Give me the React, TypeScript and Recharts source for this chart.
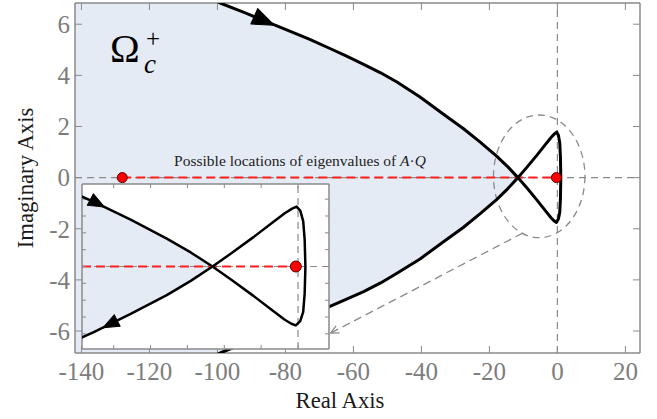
import React from 'react';
import {
  ComposedChart,
  Area,
  Scatter,
  XAxis,
  YAxis,
  ReferenceLine,
  ReferenceDot,
  ReferenceArea,
} from 'recharts';

// ---------- data ----------
// shared real-axis samples for the two big branches (left of the crossing)
const branchX = [-103, -99.2, -92, -86.5, -80, -73, -66.9, -62, -57, -52, -47.2, -40.4, -33.6, -27.7, -22.7, -17.8, -14.5, -11.6];
const upperY = [7.1, 6.83, 6.45, 6.15, 5.8, 5.42, 5.05, 4.75, 4.43, 4.1, 3.74, 3.15, 2.49, 1.92, 1.39, 0.83, 0.41, 0];
const lowerY = [-7.1, -6.86, -6.47, -6.16, -5.8, -5.42, -5.04, -4.75, -4.46, -4.12, -3.74, -3.18, -2.52, -1.95, -1.41, -0.85, -0.42, 0];
// small loop right of the crossing (drawn in contour order)
const loopX = [-9, -6, -3.5, -1.8, -0.9, -0.3, 0.3, 0.7, 0.9, 1.0, 0.9, 0.7, 0.3, -0.2, -0.8, -1.8, -3.5, -6, -9];
const loopY = [-0.4, -0.88, -1.3, -1.58, -1.7, -1.75, -1.62, -1.35, -0.8, 0, 0.8, 1.35, 1.66, 1.78, 1.72, 1.58, 1.3, 0.88, 0.4];

const eigenStart = -128;
const eigenEnd = -0.3;

const mainXTicks = [-140, -120, -100, -80, -60, -40, -20, 0, 20];
const mainYTicks = [-6, -4, -2, 0, 2, 4, 6];
const insetXTicks = [-25, -20, -15, -10, -5, 0];
const insetYTicks = [-2, -1.5, -1, -0.5, 0, 0.5, 1, 1.5, 2];

const MAIN_X_DOMAIN: [number, number] = [-141.9, 24.3];
const MAIN_Y_DOMAIN: [number, number] = [-6.86, 6.83];
const INSET_X_DOMAIN: [number, number] = [-29.3, 4.2];
const INSET_Y_DOMAIN: [number, number] = [-2.45, 2.45];

// ---------- derived tables ----------
const upperBranch = branchX.map((x, i) => ({ x, y: upperY[i] }));
const lowerBranch = branchX.map((x, i) => ({ x, y: lowerY[i] })).reverse();
const loop = loopX.map((x, i) => ({ x, y: loopY[i] }));
const contour = [...upperBranch, ...loop, ...lowerBranch];
const fillData = [
  { x: -170, range: [-9, 9] },
  ...branchX.map((x, i) => ({ x, range: [lowerY[i], upperY[i]] })),
];

const SERIF = "'Liberation Serif', 'Times New Roman', serif";
const FRAME = '#8a8a8a';
const FILL = '#e5ebf5';
const TICK_COLOR = '#7d7d7d';

const EmptyShape = () => <g />;

const makeArrow = (angle: number, len: number, wid: number) => (props: any) => {
  const { cx, cy } = props;
  if (cx == null || cy == null) return <g />;
  const pts = `${len * 0.6},0 ${-len * 0.4},${wid / 2} ${-len * 0.4},${-wid / 2}`;
  return (
    <polygon
      points={pts}
      transform={`translate(${cx},${cy}) rotate(${angle})`}
      fill="#000"
      stroke="#000"
      strokeWidth={1}
      strokeLinejoin="round"
    />
  );
};

const EllipseShape = (props: any) => {
  const { x, y, width, height } = props;
  if (x == null) return <g />;
  return (
    <ellipse
      cx={x + width / 2}
      cy={y + height / 2}
      rx={Math.abs(width) / 2}
      ry={Math.abs(height) / 2}
      fill="none"
      stroke="#8a8a8a"
      strokeWidth={1.3}
      strokeDasharray="7 5"
    />
  );
};

const PointerShape = (props: any) => {
  const { x1, y1, x2, y2 } = props;
  if (x1 == null) return <g />;
  const a = Math.atan2(y2 - y1, x2 - x1);
  const h = 9;
  const s = 0.45;
  const p1x = x2 - h * Math.cos(a - s);
  const p1y = y2 - h * Math.sin(a - s);
  const p2x = x2 - h * Math.cos(a + s);
  const p2y = y2 - h * Math.sin(a + s);
  return (
    <g>
      <line x1={x1} y1={y1} x2={x2} y2={y2} stroke="#8a8a8a" strokeWidth={1.3} strokeDasharray="8 5" />
      <polyline points={`${p1x},${p1y} ${x2},${y2} ${p2x},${p2y}`} fill="none" stroke="#8a8a8a" strokeWidth={1.3} />
    </g>
  );
};

const XTick = (props: any) => {
  const { x, y, payload } = props;
  return (
    <text x={x} y={y} dy="0.71em" textAnchor="middle" fontFamily={SERIF} fontSize={25} fill={TICK_COLOR}>
      {payload.value}
    </text>
  );
};

const YTick = (props: any) => {
  const { x, y, payload } = props;
  return (
    <text x={x} y={y} dy="0.355em" textAnchor="end" fontFamily={SERIF} fontSize={25} fill={TICK_COLOR}>
      {payload.value}
    </text>
  );
};

const NoTick = () => <g />;

function MainChart() {
  return (
    <ComposedChart width={657} height={419} data={fillData} margin={{ top: 2, right: 16, bottom: 0, left: 0 }}>
      <Area
        dataKey="range"
        type="linear"
        fill={FILL}
        fillOpacity={1}
        stroke="none"
        isAnimationActive={false}
      />
      <ReferenceLine x={0} stroke="#8a8a8a" strokeWidth={1.2} strokeDasharray="7 5" />
      <ReferenceLine y={0} stroke="#8a8a8a" strokeWidth={1.2} strokeDasharray="7 5" />
      <ReferenceArea x1={-18.8} x2={8.1} y1={-2.35} y2={2.45} shape={EllipseShape} ifOverflow="visible" />
      <ReferenceLine
        segment={[{ x: eigenStart, y: 0 }, { x: eigenEnd, y: 0 }]}
        stroke="#ff1f1f"
        strokeWidth={2}
        strokeDasharray="9 5"
      />
      <Scatter
        data={contour}
        dataKey="y"
        line={{ stroke: '#000', strokeWidth: 3, strokeLinejoin: 'round' }}
        lineType="joint"
        shape={EmptyShape}
        isAnimationActive={false}
      />
      <ReferenceDot x={-86.8} y={6.17} r={1} shape={makeArrow(24, 22, 17)} ifOverflow="visible" />
      <ReferenceLine
        segment={[{ x: -10.2, y: -2.17 }, { x: -66.7, y: -6.08 }]}
        shape={PointerShape}
        ifOverflow="visible"
      />
      <ReferenceDot x={eigenStart} y={0} r={5} fill="#ff0000" stroke="#5a0000" strokeWidth={1} />
      <ReferenceDot x={eigenEnd} y={0} r={5} fill="#ff0000" stroke="#5a0000" strokeWidth={1} />
      <XAxis
        dataKey="x"
        type="number"
        domain={MAIN_X_DOMAIN}
        allowDataOverflow
        ticks={mainXTicks}
        interval={0}
        height={66}
        tickSize={-7}
        tickMargin={16}
        axisLine={{ stroke: FRAME, strokeWidth: 1.5 }}
        tickLine={{ stroke: FRAME, strokeWidth: 1 }}
        tick={<XTick />}
      />
      <XAxis
        xAxisId="top"
        orientation="top"
        dataKey="x"
        type="number"
        domain={MAIN_X_DOMAIN}
        allowDataOverflow
        ticks={mainXTicks}
        interval={0}
        height={1}
        tickSize={-7}
        tick={<NoTick />}
        axisLine={{ stroke: FRAME, strokeWidth: 1.5 }}
        tickLine={{ stroke: FRAME, strokeWidth: 1 }}
      />
      <YAxis
        type="number"
        domain={MAIN_Y_DOMAIN}
        allowDataOverflow
        ticks={mainYTicks}
        interval={0}
        width={75}
        tickSize={-7}
        tickMargin={12}
        axisLine={{ stroke: FRAME, strokeWidth: 1.5 }}
        tickLine={{ stroke: FRAME, strokeWidth: 1 }}
        tick={<YTick />}
      />
      <YAxis
        yAxisId="right"
        orientation="right"
        type="number"
        domain={MAIN_Y_DOMAIN}
        allowDataOverflow
        ticks={mainYTicks}
        interval={0}
        width={1}
        tickSize={-7}
        tick={<NoTick />}
        axisLine={{ stroke: FRAME, strokeWidth: 1.5 }}
        tickLine={{ stroke: FRAME, strokeWidth: 1 }}
      />
    </ComposedChart>
  );
}

function InsetChart() {
  return (
    <ComposedChart width={249} height={167} data={fillData} margin={{ top: 0, right: 0, bottom: 0, left: 0 }}>
      <Area dataKey="range" type="linear" fill={FILL} fillOpacity={1} stroke="none" isAnimationActive={false} />
      <ReferenceLine x={0} stroke="#8a8a8a" strokeWidth={1.2} strokeDasharray="7 5" />
      <ReferenceLine y={0} stroke="#8a8a8a" strokeWidth={1.2} strokeDasharray="7 5" />
      <ReferenceLine
        segment={[{ x: INSET_X_DOMAIN[0], y: 0 }, { x: eigenEnd, y: 0 }]}
        stroke="#ff1f1f"
        strokeWidth={2}
        strokeDasharray="9 5"
      />
      <Scatter
        data={contour}
        dataKey="y"
        line={{ stroke: '#000', strokeWidth: 2.5, strokeLinejoin: 'round' }}
        lineType="joint"
        shape={EmptyShape}
        isAnimationActive={false}
      />
      <ReferenceDot x={-27.4} y={1.9} r={1} shape={makeArrow(28, 16, 13)} ifOverflow="visible" />
      <ReferenceDot x={-25.3} y={-1.69} r={1} shape={makeArrow(153, 16, 13)} ifOverflow="visible" />
      <ReferenceDot x={eigenEnd} y={0} r={5.5} fill="#ff0000" stroke="#5a0000" strokeWidth={1} />
      <XAxis
        dataKey="x"
        type="number"
        domain={INSET_X_DOMAIN}
        allowDataOverflow
        ticks={insetXTicks}
        interval={0}
        height={1}
        tickSize={-4}
        tick={<NoTick />}
        axisLine={{ stroke: FRAME, strokeWidth: 1.5 }}
        tickLine={{ stroke: FRAME, strokeWidth: 1 }}
      />
      <XAxis
        xAxisId="top"
        orientation="top"
        dataKey="x"
        type="number"
        domain={INSET_X_DOMAIN}
        allowDataOverflow
        ticks={insetXTicks}
        interval={0}
        height={1}
        tickSize={-4}
        tick={<NoTick />}
        axisLine={{ stroke: FRAME, strokeWidth: 1.5 }}
        tickLine={{ stroke: FRAME, strokeWidth: 1 }}
      />
      <YAxis
        type="number"
        domain={INSET_Y_DOMAIN}
        allowDataOverflow
        ticks={insetYTicks}
        interval={0}
        width={1}
        tickSize={-4}
        tick={<NoTick />}
        axisLine={{ stroke: FRAME, strokeWidth: 1.5 }}
        tickLine={{ stroke: FRAME, strokeWidth: 1 }}
      />
      <YAxis
        yAxisId="right"
        orientation="right"
        type="number"
        domain={INSET_Y_DOMAIN}
        allowDataOverflow
        ticks={insetYTicks}
        interval={0}
        width={1}
        tickSize={-4}
        tick={<NoTick />}
        axisLine={{ stroke: FRAME, strokeWidth: 1.5 }}
        tickLine={{ stroke: FRAME, strokeWidth: 1 }}
      />
    </ComposedChart>
  );
}

export default function App() {
  return (
    <div style={{ position: 'absolute', left: 0, top: 0, width: 657, height: 419, background: '#fff', overflow: 'hidden' }}>
      <div style={{ position: 'absolute', left: 0, top: 0 }}>
        <MainChart />
      </div>
      <svg
        width={657}
        height={419}
        style={{ position: 'absolute', left: 0, top: 0, pointerEvents: 'none' }}
      >
        <text x={110} y={62} fontFamily={SERIF} fontSize={40} fill="#000">Ω</text>
        <text x={146} y={47} fontFamily={SERIF} fontSize={25} fill="#000">+</text>
        <text x={144} y={73} fontFamily={SERIF} fontSize={27} fontStyle="italic" fill="#000">c</text>
        <text x={300} y={166} fontFamily={SERIF} fontSize={15.5} fill="#222" textAnchor="middle">
          Possible locations of eigenvalues of <tspan fontStyle="italic">A</tspan>·<tspan fontStyle="italic">Q</tspan>
        </text>
        <text x={340} y={408} fontFamily={SERIF} fontSize={22.7} fill="#1a1a1a" textAnchor="middle">Real Axis</text>
        <text
          x={0}
          y={0}
          transform="translate(33,178) rotate(-90)"
          fontFamily={SERIF}
          fontSize={22.7}
          fill="#1a1a1a"
          textAnchor="middle"
        >
          Imaginary Axis
        </text>
      </svg>
      <div style={{ position: 'absolute', left: 82, top: 184, width: 247, height: 165, background: '#fff' }} />
      <div style={{ position: 'absolute', left: 81, top: 183 }}>
        <InsetChart />
      </div>
    </div>
  );
}
